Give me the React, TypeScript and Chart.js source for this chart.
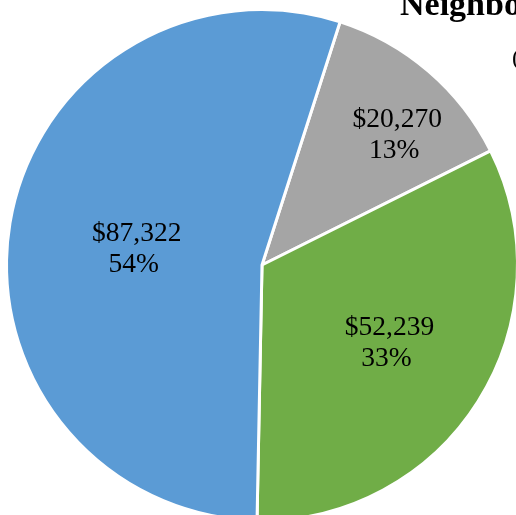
import React, { useEffect, useRef } from "react";
import { Chart, registerables } from "chart.js";

Chart.register(...registerables);

const categories = ["Gray", "Green", "Blue"];
const values = [20270, 52239, 87322];
const valueLabels = ["$20,270", "$52,239", "$87,322"];
const percentLabels = ["13%", "33%", "54%"];
const colors = ["#A5A5A5", "#70AD47", "#5B9BD5"];
const titleText = "Neighborhood";
const subtitleText = "(";

// label placement: fraction of outer radius, and angle offset (degrees) from slice middle
const labelRadiusFraction = [0.73, 0.58, 0.5];
const labelAngleOffset = [5.2, -0.5, -2.3];

const labelPlugin = {
  id: "sliceLabels",
  afterDatasetsDraw(chart: any) {
    const ctx = chart.ctx;
    const meta = chart.getDatasetMeta(0);
    ctx.save();
    ctx.fillStyle = "#000";
    ctx.font = "27.5px 'Liberation Serif', 'Times New Roman', serif";
    ctx.textAlign = "center";
    ctx.textBaseline = "middle";
    meta.data.forEach((arc: any, i: number) => {
      const p = arc.getProps(["x", "y", "startAngle", "endAngle", "outerRadius"], true);
      const mid = (p.startAngle + p.endAngle) / 2 + (labelAngleOffset[i] * Math.PI) / 180;
      const r = p.outerRadius * labelRadiusFraction[i];
      const cx = p.x + Math.cos(mid) * r;
      const cy = p.y + Math.sin(mid) * r;
      ctx.fillText(valueLabels[i], cx + 1.5, cy - 15.5);
      ctx.fillText(percentLabels[i], cx - 1.5, cy + 15.5);
    });
    ctx.textAlign = "left";
    ctx.textBaseline = "alphabetic";
    ctx.font = "bold 34px 'Liberation Serif', 'Times New Roman', serif";
    ctx.fillText(titleText, 400, 15);
    ctx.font = "24px 'Liberation Serif', 'Times New Roman', serif";
    ctx.fillText(subtitleText, 512, 65);
    ctx.restore();
  },
};

export default function App() {
  const ref = useRef<HTMLCanvasElement | null>(null);
  useEffect(() => {
    if (!ref.current) return;
    const chart = new Chart(ref.current, {
      type: "pie",
      data: {
        labels: categories,
        datasets: [
          {
            data: values,
            backgroundColor: colors,
            borderColor: "#ffffff",
            borderWidth: 3,
          },
        ],
      },
      options: {
        responsive: false,
        animation: false,
        rotation: 17.8,
        layout: { padding: { left: 5, top: 8, right: 11, bottom: 8 } },
        plugins: {
          legend: { display: false },
          tooltip: { enabled: false },
          title: { display: false },
        },
      },
      plugins: [labelPlugin],
    });
    return () => chart.destroy();
  }, []);
  return (
    <div
      style={{
        position: "absolute",
        left: 0,
        top: 0,
        width: 516,
        height: 515,
        overflow: "hidden",
        background: "#fff",
      }}
    >
      <canvas ref={ref} width={530} height={530} style={{ width: 530, height: 530, display: "block" }} />
    </div>
  );
}
